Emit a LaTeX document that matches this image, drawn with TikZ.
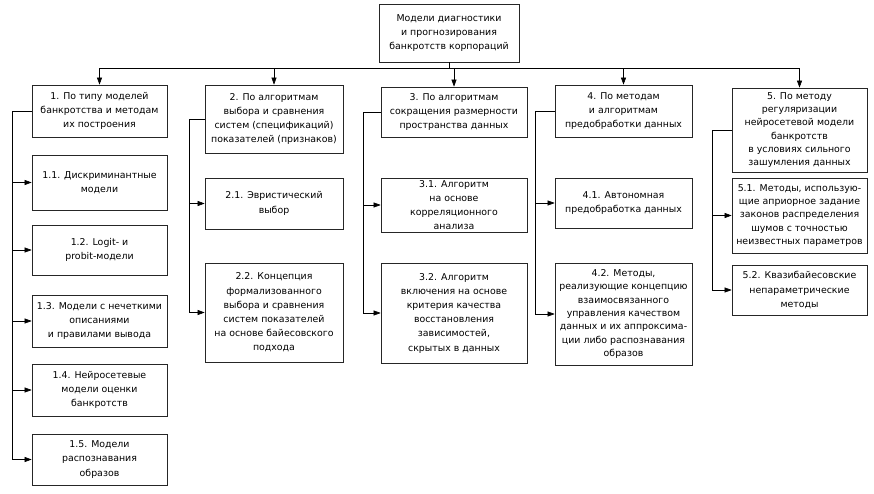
\documentclass[tikz,border=0pt]{standalone}
\usepackage{fontspec}
\setmainfont{DejaVu Sans}
\usetikzlibrary{arrows.meta}
\begin{document}
\begin{tikzpicture}[x=1pt,y=-1pt,
  box/.style={draw=black!85, line width=0.7pt, align=center, inner sep=1pt,
    font=\fontsize{9.4}{14.2}\selectfont},
  tight/.style={font=\fontsize{9.4}{13.3}\selectfont},
  link/.style={draw=black, line width=0.6pt},
  arr/.style={link, -{Triangle[length=7pt,width=5pt]}}]
\useasboundingbox (0,0) rectangle (874,494);
\fill[white] (0,0) rectangle (874,494);
% nodes
\node[box, minimum width=140pt, minimum height=58pt] (top) at (449,33) {Модели диагностики\\и прогнозирования\\банкротств корпораций};
\node[box, minimum width=135pt, minimum height=52pt] (c1) at (99.5,111) {1. По типу моделей\\банкротства и методам\\их построения};
\node[box, minimum width=135pt, minimum height=55pt] (c11) at (99.5,182.5) {1.1. Дискриминантные\\модели};
\node[box, minimum width=135pt, minimum height=50pt] (c12) at (99.5,250) {1.2. Logit- и\\probit-модели};
\node[box, minimum width=135pt, minimum height=52pt] (c13) at (99.5,321) {1.3. Модели с нечеткими\\описаниями\\и правилами вывода};
\node[box, minimum width=135pt, minimum height=52pt] (c14) at (99.5,390) {1.4. Нейросетевые\\модели оценки\\банкротств};
\node[box, minimum width=135pt, minimum height=51pt] (c15) at (99.5,459.5) {1.5. Модели\\распознавания\\образов};
\node[box, minimum width=138pt, minimum height=68pt] (c2) at (274,119) {2. По алгоритмам\\выбора и сравнения\\систем (спецификаций)\\показателей (признаков)};
\node[box, minimum width=138pt, minimum height=51pt] (c21) at (274,203.5) {2.1. Эвристический\\выбор};
\node[box, minimum width=138pt, minimum height=99pt] (c22) at (274,312.5) {2.2. Концепция\\формализованного\\выбора и сравнения\\систем показателей\\на основе байесовского\\подхода};
\node[box, minimum width=146pt, minimum height=50pt] (c3) at (454,112) {3. По алгоритмам\\сокращения размерности\\пространства данных};
\node[box, minimum width=146pt, minimum height=54pt] (c31) at (454,205) {3.1. Алгоритм\\на основе\\корреляционного\\анализа};
\node[box, minimum width=146pt, minimum height=100pt] (c32) at (454,313) {3.2. Алгоритм\\включения на основе\\критерия качества\\восстановления\\зависимостей,\\скрытых в данных};
\node[box, minimum width=137pt, minimum height=52pt] (c4) at (623.5,111) {4. По методам\\и алгоритмам\\предобработки данных};
\node[box, minimum width=137pt, minimum height=50pt] (c41) at (623.5,203) {4.1. Автономная\\предобработка данных};
\node[box, tight, minimum width=137pt, minimum height=102pt] (c42) at (623.5,314) {4.2. Методы,\\реализующие концепцию\\взаимосвязанного\\управления качеством\\данных и их аппроксима-\\ции либо распознавания\\образов};
\node[box, tight, minimum width=135pt, minimum height=84pt] (c5) at (799.5,130) {5. По методу\\регуляризации\\нейросетевой модели\\банкротств\\в условиях сильного\\зашумления данных};
\node[box, tight, minimum width=135pt, minimum height=75pt] (c51) at (799.5,215.5) {5.1. Методы, использую-\\щие априорное задание\\законов распределения\\шумов с точностью\\неизвестных параметров};
\node[box, minimum width=135pt, minimum height=50pt] (c52) at (799.5,290) {5.2. Квазибайесовские\\непараметрические\\методы};
% bus
\coordinate (bus) at (0,68);
\draw[link] (top.south) -- (top.south |- bus);
\foreach \c in {c1,c2,c3,c4,c5}{
  \draw[arr] (top.south |- bus) -| (\c.north);
}
% group spines
\coordinate (v1) at (12,0);
\coordinate (v2) at (189,0);
\coordinate (v3) at (363,0);
\coordinate (v4) at (535,0);
\coordinate (v5) at (712,0);
\draw[link] (c1.west) -| (v1 |- c15.west);
\draw[link] (c2.west) -| (v2 |- c22.west);
\draw[link] (c3.west) -| (v3 |- c32.west);
\draw[link] (c4.west) -| (v4 |- c42.west);
\draw[link] (c5.west) -| (v5 |- c52.west);
\foreach \c in {c11,c12,c13,c14,c15}{\draw[arr] (v1 |- \c.west) -- (\c.west);}
\foreach \c in {c21,c22}{\draw[arr] (v2 |- \c.west) -- (\c.west);}
\foreach \c in {c31,c32}{\draw[arr] (v3 |- \c.west) -- (\c.west);}
\foreach \c in {c41,c42}{\draw[arr] (v4 |- \c.west) -- (\c.west);}
\foreach \c in {c51,c52}{\draw[arr] (v5 |- \c.west) -- (\c.west);}
\end{tikzpicture}
\end{document}
